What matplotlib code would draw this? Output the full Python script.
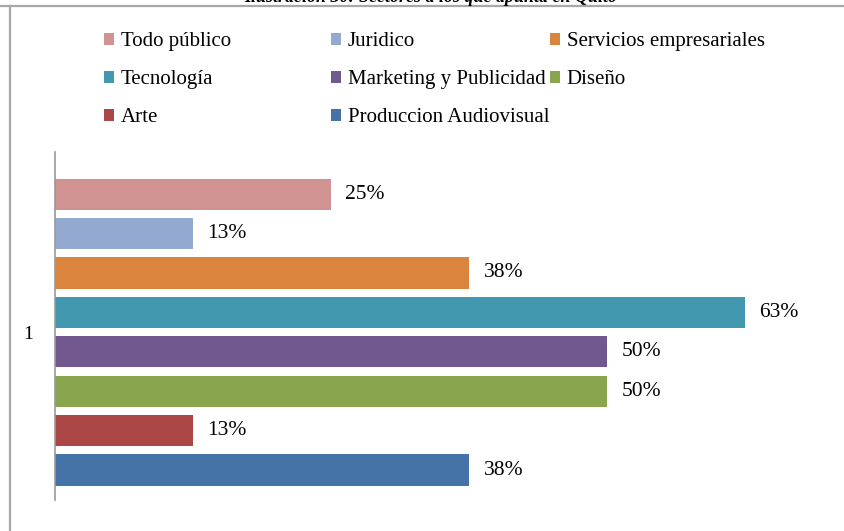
import matplotlib
matplotlib.use("Agg")
import matplotlib.pyplot as plt
from matplotlib.lines import Line2D

# ---- data
categorias = ["Todo público", "Juridico", "Servicios empresariales", "Tecnología",
              "Marketing y Publicidad", "Diseño", "Arte", "Produccion Audiovisual"]
valores = [25, 12.5, 37.5, 62.5, 50, 50, 12.5, 37.5]
etiquetas = ["25%", "13%", "38%", "63%", "50%", "50%", "13%", "38%"]
colores = ["#D19392", "#93A9CF", "#DB843D", "#4198AF",
           "#71588F", "#89A54E", "#AA4643", "#4572A7"]
grupo = ["1"]
titulo = "Ilustración 30: Sectores a los que apunta en Quito"

plt.rcParams['font.family'] = ['Liberation Serif', 'DejaVu Serif']

W, H = 844, 531
fig = plt.figure(figsize=(W / 100, H / 100), dpi=100)

# frame lines like the cropped document
fig.add_artist(Line2D([0, 1], [1 - 6 / H, 1 - 6 / H], color="#a8a8a8", lw=1.6))
fig.add_artist(Line2D([10 / W, 10 / W], [0, 1 - 6 / H], color="#a8a8a8", lw=1.6))
fig.text(0.51, 1 - 2 / H, titulo, ha="center", va="baseline",
         fontsize=13, style="italic", fontweight="bold")

ax = fig.add_axes([55 / W, 1 - 500 / H, 773 / W, 348 / H])

barras = []
for i, (v, c, lab) in enumerate(zip(valores, colores, etiquetas)):
    b = ax.barh(i, v, height=0.79, color=c, label=categorias[i])
    barras.append(b)
    ax.text(v + 1.3, i, lab, va="center", ha="left", fontsize=15.5)

ax.set_xlim(0, 70)
ax.set_ylim(7.76, -1.07)
ax.set_xticks([])
ax.set_yticks([3.5])
ax.set_yticklabels(grupo, fontsize=14)
ax.tick_params(axis="y", length=0, pad=16)
for s in ["top", "right", "bottom"]:
    ax.spines[s].set_visible(False)
ax.spines["left"].set_color("#999999")
ax.spines["left"].set_linewidth(1.2)

# legend: three columns placed like the Excel legend
columnas = [[0, 3, 6], [1, 4, 7], [2, 5]]
xs = [104, 331, 550]
for col, x in zip(columnas, xs):
    leg = fig.legend([barras[k] for k in col], [categorias[k] for k in col],
                     loc="upper left", bbox_to_anchor=(x / W, 1 - 32 / H),
                     frameon=False, fontsize=15, handlelength=0.5, handleheight=0.5,
                     handletextpad=0.3, labelspacing=0.92, borderpad=0, borderaxespad=0)

fig.savefig("out.png", dpi=100)
